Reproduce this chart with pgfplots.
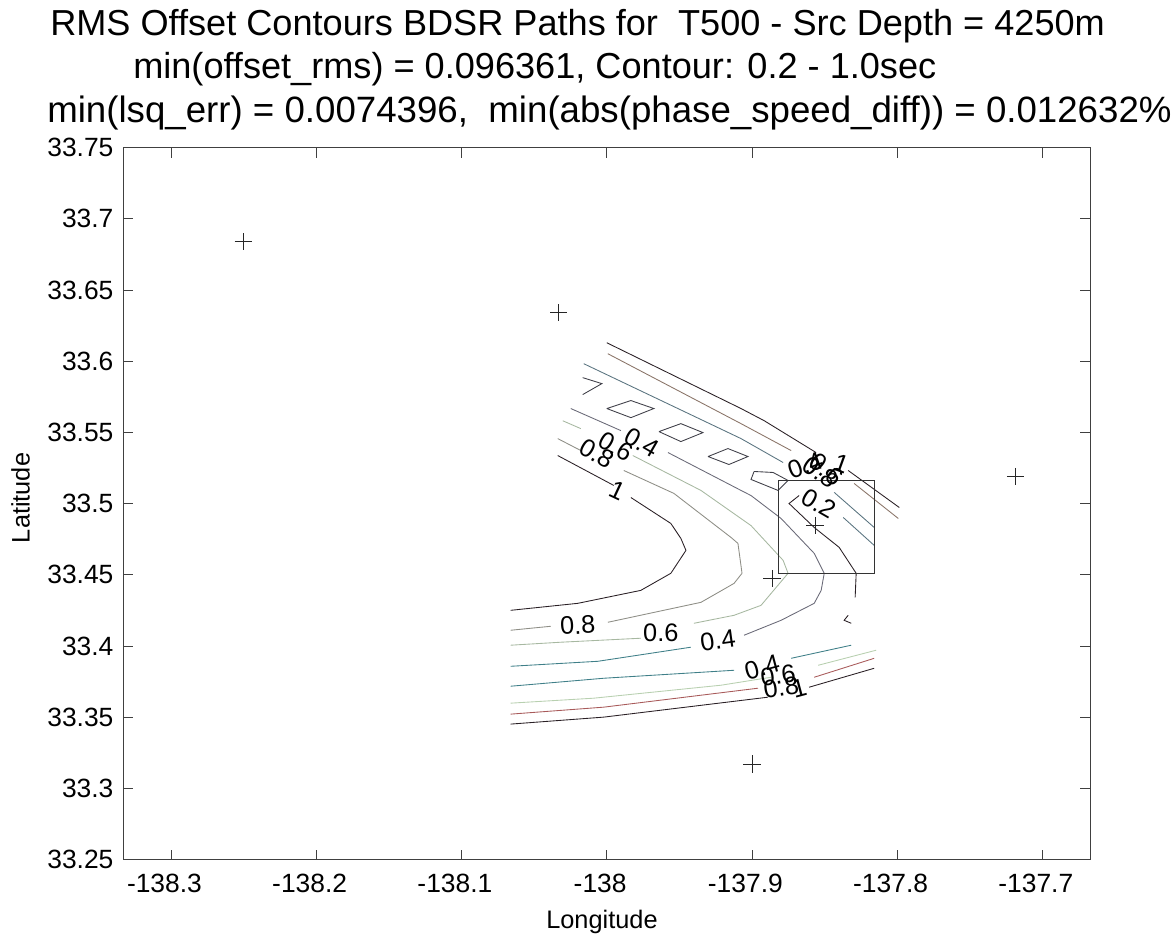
\documentclass[border=0pt]{standalone}
\usepackage{pgfplots}
\pgfplotsset{compat=1.18}
\usepackage{fontspec}
\setmainfont{Liberation Sans}

\definecolor{cblack}{HTML}{2A2025}
\definecolor{cbrown}{HTML}{8A7468}
\definecolor{cblue}{HTML}{5A7480}
\definecolor{cgrey}{HTML}{6A6A78}
\definecolor{cgreen}{HTML}{B8D0B0}
\definecolor{cteal}{HTML}{3F7F88}
\definecolor{cred}{HTML}{A85A5A}
\definecolor{cmid}{HTML}{8E8E86}

\begin{document}
\begin{tikzpicture}
\path[use as bounding box] (0,0) rectangle (881.25pt,704.25pt);
\begin{axis}[
    at={(92.6pt,59.5pt)}, anchor=south west,
    scale only axis,
    width=725pt, height=534pt,
    xmin=-138.3328, xmax=-137.6672,
    ymin=33.25, ymax=33.75,
    xtick={-138.3,-138.2,-138.1,-138,-137.9,-137.8,-137.7},
    xticklabels={-138.3,-138.2,-138.1,-138,-137.9,-137.8,-137.7},
    ytick={33.25,33.3,33.35,33.4,33.45,33.5,33.55,33.6,33.65,33.7,33.75},
    yticklabels={33.25,33.3,33.35,33.4,33.45,33.5,33.55,33.6,33.65,33.7,33.75},
    tick align=inside, tick pos=both,
    major tick length=7.5pt,
    every tick/.style={draw=black!75,line width=0.6pt},
    axis line style={draw=black!75,line width=0.9pt},
    tick label style={font=\fontsize{19.8}{22}\selectfont},
    xticklabel style={yshift=-7pt,xshift=-5pt},
    yticklabel style={xshift=-4pt},
    xlabel={Longitude}, ylabel={Latitude},
    label style={font=\fontsize{19}{22}\selectfont},
    xlabel style={at={(axis description cs:0.495,-0.088)},anchor=center},
    ylabel style={at={(axis description cs:-0.1065,0.508)},anchor=center},
    contour/.style={no markers,line width=0.65pt},
]
% contour 1, upper and lower pieces
\addplot[contour,cblack] coordinates {(-138.0000,33.6130) (-137.9076,33.5668) (-137.8917,33.5583) (-137.8559,33.5359)};
\addplot[contour,cblack] coordinates {(-137.8338,33.5233) (-137.7986,33.4973)};
\addplot[contour,cbrown] coordinates {(-137.9993,33.6053) (-137.9076,33.5562) (-137.8731,33.5373)};
\addplot[contour,cbrown] coordinates {(-137.8297,33.5142) (-137.7993,33.4896)};
\addplot[contour,cblue] coordinates {(-138.0159,33.5983) (-137.9076,33.5457) (-137.8786,33.5289)};
\addplot[contour,cblue] coordinates {(-137.8434,33.5079) (-137.8159,33.4833)};
\addplot[contour,cblue] coordinates {(-137.8372,33.4903) (-137.8159,33.4707)};

% closed cells along the ridge
\addplot[contour,cgrey!60!black] coordinates {(-138.0000,33.5668) (-137.9834,33.5724) (-137.9676,33.5668) (-137.9834,33.5604) (-138.0000,33.5668)};
\addplot[contour,cgrey!60!black] coordinates {(-137.9641,33.5506) (-137.9490,33.5562) (-137.9338,33.5499) (-137.9490,33.5436) (-137.9641,33.5506)};
\addplot[contour,cgrey!60!black] coordinates {(-137.9303,33.5331) (-137.9166,33.5387) (-137.9028,33.5331) (-137.9159,33.5275) (-137.9303,33.5331)};
\addplot[contour,cgrey!60!black] coordinates {(-137.8986,33.5226) (-137.8855,33.5219) (-137.8752,33.5163) (-137.8821,33.5093) (-137.9007,33.5170) (-137.8986,33.5226)};
\addplot[contour,cgrey!60!black] coordinates {(-138.0166,33.5885) (-138.0034,33.5843) (-138.0166,33.5766)};

% contour 0.2
\addplot[contour,cblack] coordinates {(-137.8676,33.5057) (-137.8745,33.5001) (-137.8572,33.4833) (-137.8400,33.4693) (-137.8283,33.4511) (-137.8290,33.4342)};
\addplot[contour,cblack] coordinates {(-137.8338,33.4216) (-137.8366,33.4181) (-137.8317,33.4160)};

% contour 0.4, across the bend
\addplot[contour,cgrey] coordinates {(-138.0248,33.5668) (-137.9903,33.5513)};
\addplot[contour,cgrey] coordinates {(-137.9579,33.5359) (-137.9076,33.5093) (-137.9007,33.5057) (-137.8800,33.4896) (-137.8572,33.4651) (-137.8503,33.4511) (-137.8524,33.4391) (-137.8572,33.4300) (-137.8800,33.4181) (-137.9055,33.4076)};
\addplot[contour,cteal] coordinates {(-137.9421,33.3992) (-138.0062,33.3893) (-138.0662,33.3858)};

% contour 0.6, faint
\addplot[contour,cgreen!70!gray] coordinates {(-138.0303,33.5582) (-138.0179,33.5527)};
\addplot[contour,cgreen!70!gray] coordinates {(-137.9821,33.5338) (-137.9352,33.5093) (-137.9007,33.4846) (-137.8786,33.4602) (-137.8752,33.4511) (-137.8938,33.4286) (-137.9124,33.4216) (-137.9400,33.4160)};
\addplot[contour,cgreen!70!gray] coordinates {(-137.9766,33.4055) (-138.0317,33.4027) (-138.0662,33.4006)};

% contour 0.8
\addplot[contour,cmid] coordinates {(-138.0338,33.5457) (-138.0179,33.5373)};
\addplot[contour,cmid] coordinates {(-137.9883,33.5233) (-137.9538,33.5072) (-137.9145,33.4763) (-137.9097,33.4721) (-137.9069,33.4511) (-137.9124,33.4440) (-137.9352,33.4307) (-137.9993,33.4167)};
\addplot[contour,cmid] coordinates {(-138.0386,33.4139) (-138.0662,33.4111)};

% contour 1
\addplot[contour,cblack] coordinates {(-138.0338,33.5338) (-137.9952,33.5128)};
\addplot[contour,cblack] coordinates {(-137.9834,33.5043) (-137.9559,33.4861) (-137.9490,33.4756) (-137.9455,33.4672) (-137.9559,33.4511) (-137.9766,33.4391) (-138.0200,33.4300) (-138.0662,33.4251)};

% lower limb
\addplot[contour,cteal] coordinates {(-138.0662,33.3718) (-138.0021,33.3774) (-137.9124,33.3830)};
\addplot[contour,cteal] coordinates {(-137.8731,33.3914) (-137.8317,33.4006)};
\addplot[contour,cgreen] coordinates {(-138.0662,33.3599) (-138.0090,33.3634) (-137.9214,33.3725) (-137.8869,33.3781)};
\addplot[contour,cgreen] coordinates {(-137.8545,33.3865) (-137.8145,33.3971)};
\addplot[contour,cred] coordinates {(-138.0662,33.3522) (-138.0021,33.3571) (-137.8959,33.3704)};
\addplot[contour,cred] coordinates {(-137.8572,33.3781) (-137.8159,33.3914)};
\addplot[contour,cblack] coordinates {(-138.0662,33.3452) (-138.0021,33.3501) (-137.8890,33.3641)};
\addplot[contour,cblack] coordinates {(-137.8607,33.3711) (-137.8159,33.3844)};

% candidate box and stations
\addplot[black!80,line width=0.8pt] coordinates {(-137.8821,33.5163) (-137.8159,33.5163) (-137.8159,33.4511) (-137.8821,33.4511) (-137.8821,33.5163)};
\addplot[only marks,mark=+,mark size=6.5pt,mark options={line width=0.7pt,draw=black!85}] coordinates {
  (-138.2503,33.6839) (-138.0331,33.6341) (-137.7186,33.5191)
  (-137.8566,33.4847) (-137.8862,33.4475) (-137.9000,33.3171)};

\begin{scope}[every node/.style={font=\fontsize{19}{21}\selectfont,inner sep=0pt}]
\node[rotate=-25] at (axis cs:-137.9924,33.5093) {1};
\node[rotate=-30] at (axis cs:-138.0069,33.5352) {0.8};
\node[rotate=-30] at (axis cs:-137.9938,33.5401) {0.6};
\node[rotate=-30] at (axis cs:-137.9759,33.5429) {0.4};
\node[rotate=3] at (axis cs:-138.0200,33.4146) {0.8};
\node at (axis cs:-137.9628,33.4090) {0.6};
\node[rotate=8] at (axis cs:-137.9235,33.4041) {0.4};
\node[rotate=15] at (axis cs:-137.8931,33.3851) {0.4};
\node[rotate=8] at (axis cs:-137.8821,33.3795) {0.6};
\node[rotate=8] at (axis cs:-137.8800,33.3711) {0.8};
\node[rotate=15] at (axis cs:-137.8676,33.3704) {1};
\node[rotate=-30] at (axis cs:-137.8538,33.5001) {0.2};
\node[rotate=-20] at (axis cs:-137.8386,33.5282) {1};
\node[rotate=20] at (axis cs:-137.8634,33.5268) {0.4};
\node[rotate=-34] at (axis cs:-137.8531,33.5219) {0.8};
\node[rotate=-40] at (axis cs:-137.8490,33.5240) {0.6};
\end{scope}
\end{axis}

\begin{scope}[x=0.75pt,y=0.75pt,every node/.style={anchor=base west,inner sep=0pt}]
\node[font=\fontsize{27.1}{30}\selectfont] at (50,903) {RMS Offset Contours BDSR Paths for\ \ T500 - Src Depth = 4250m};
\node[font=\fontsize{27.1}{30}\selectfont] at (133,860) {min(offset\_rms) = 0.096361, Contour: 0.2 - 1.0sec};
\node[font=\fontsize{27.5}{30}\selectfont] at (47,816) {min(lsq\_err) = 0.0074396,\ \ min(abs(phase\_speed\_diff)) = 0.012632\%};
\end{scope}
\end{tikzpicture}
\end{document}
